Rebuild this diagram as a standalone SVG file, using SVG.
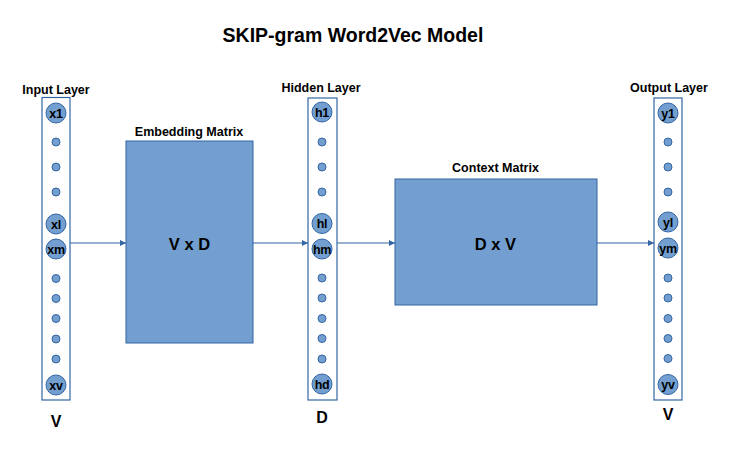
<svg xmlns="http://www.w3.org/2000/svg" width="733" height="460" viewBox="0 0 733 460">
<defs>
<style>
text{font-family:"Liberation Sans",Arial,sans-serif;font-weight:bold;fill:#000;text-anchor:middle}
.col{fill:#fff;stroke:#3465a4;stroke-width:1.2}
.big{fill:#729fcf;stroke:#3465a4;stroke-width:1}
.dot{fill:#729fcf;stroke:#3465a4;stroke-width:1}
.mat{fill:#729fcf;stroke:#3465a4;stroke-width:1}
.lbl{font-size:12.5px}
.node{font-size:12.5px;letter-spacing:-0.3px}
.conn{stroke:#3465a4;stroke-width:1.2;fill:none;marker-end:url(#ah)}
</style>
<marker id="ah" viewBox="0 0 10 10" refX="10" refY="5" markerWidth="6" markerHeight="6" markerUnits="userSpaceOnUse" orient="auto">
<path d="M0,0 L10,5 L0,10 z" fill="#3465a4"/>
</marker>
</defs>
<rect width="733" height="460" fill="#fff"/>
<text x="353" y="41.5" style="font-size:19.5px">SKIP-gram Word2Vec Model</text>

<g id="input-layer">
<text class="lbl" x="56" y="94">Input Layer</text>
<rect class="col" x="42" y="97.5" width="28" height="302.5"/>
<circle class="big" cx="56" cy="113" r="10"/><text class="node" x="56" y="117.5">x1</text>
<circle class="dot" cx="56" cy="142" r="4"/>
<circle class="dot" cx="56" cy="167" r="4"/>
<circle class="dot" cx="56" cy="192" r="4"/>
<circle class="big" cx="56" cy="224" r="10"/><text class="node" x="56" y="228.5">xl</text>
<circle class="big" cx="56" cy="249" r="10"/><text class="node" x="56" y="253.5">xm</text>
<circle class="dot" cx="56" cy="278.5" r="4"/>
<circle class="dot" cx="56" cy="298.5" r="4"/>
<circle class="dot" cx="56" cy="318.5" r="4"/>
<circle class="dot" cx="56" cy="339" r="4"/>
<circle class="dot" cx="56" cy="359" r="4"/>
<circle class="big" cx="56" cy="385" r="10"/><text class="node" x="56" y="389.5">xv</text>
<text x="56" y="427" style="font-size:16px">V</text>
</g>

<g id="embedding-matrix">
<text class="lbl" x="189" y="136">Embedding Matrix</text>
<rect class="mat" x="126" y="141" width="127" height="202"/>
<text x="189.5" y="249.5" style="font-size:16.5px">V x D</text>
</g>

<g id="hidden-layer">
<text class="lbl" x="321" y="92">Hidden Layer</text>
<rect class="col" x="308" y="98" width="29" height="302"/>
<circle class="big" cx="322" cy="112" r="10"/><text class="node" x="322" y="116.5">h1</text>
<circle class="dot" cx="322" cy="142" r="4"/>
<circle class="dot" cx="322" cy="167" r="4"/>
<circle class="dot" cx="322" cy="192" r="4"/>
<circle class="big" cx="322" cy="223.5" r="10"/><text class="node" x="322" y="228">hl</text>
<circle class="big" cx="322" cy="249" r="10"/><text class="node" x="322" y="253.5">hm</text>
<circle class="dot" cx="322" cy="278" r="4"/>
<circle class="dot" cx="322" cy="298" r="4"/>
<circle class="dot" cx="322" cy="318.5" r="4"/>
<circle class="dot" cx="322" cy="338.5" r="4"/>
<circle class="dot" cx="322" cy="359" r="4"/>
<circle class="big" cx="322" cy="384" r="10"/><text class="node" x="322" y="388.5">hd</text>
<text x="322" y="423" style="font-size:16px">D</text>
</g>

<g id="context-matrix">
<text class="lbl" x="495.5" y="172">Context Matrix</text>
<rect class="mat" x="395" y="179" width="202" height="126"/>
<text x="495.5" y="249.5" style="font-size:16.5px">D x V</text>
</g>

<g id="output-layer">
<text class="lbl" x="669" y="92">Output Layer</text>
<rect class="col" x="654" y="98" width="28" height="302"/>
<circle class="big" cx="668" cy="113" r="10"/><text class="node" x="668" y="117.5">y1</text>
<circle class="dot" cx="668" cy="142" r="4"/>
<circle class="dot" cx="668" cy="167" r="4"/>
<circle class="dot" cx="668" cy="192" r="4"/>
<circle class="big" cx="668" cy="222" r="10"/><text class="node" x="668" y="226.5">yl</text>
<circle class="big" cx="668" cy="248" r="10"/><text class="node" x="668" y="252.5">ym</text>
<circle class="dot" cx="668" cy="278" r="4"/>
<circle class="dot" cx="668" cy="298" r="4"/>
<circle class="dot" cx="668" cy="318.5" r="4"/>
<circle class="dot" cx="668" cy="338.5" r="4"/>
<circle class="dot" cx="668" cy="358.5" r="4"/>
<circle class="big" cx="668" cy="384.5" r="10"/><text class="node" x="668" y="389">yv</text>
<text x="668" y="420" style="font-size:16px">V</text>
</g>

<g id="connectors">
<line class="conn" x1="70" y1="243" x2="126" y2="243"/>
<line class="conn" x1="253" y1="243" x2="308" y2="243"/>
<line class="conn" x1="337" y1="243" x2="395" y2="243"/>
<line class="conn" x1="597" y1="243" x2="654" y2="243"/>
</g>
</svg>
